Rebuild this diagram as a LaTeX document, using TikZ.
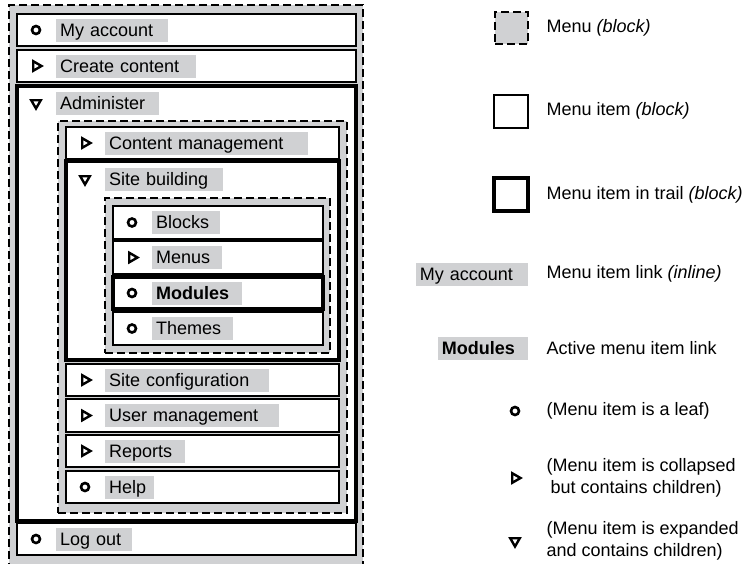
\documentclass[tikz,border=0pt]{standalone}
\usepackage{fontspec}
\setmainfont{Liberation Sans}
\usepackage{tikz}
\usetikzlibrary{shapes.geometric,positioning}
\definecolor{menugray}{RGB}{208,209,211}
\tikzstyle{menu}=[draw, fill=menugray, line width=1.2pt, dash pattern=on 8pt off 4pt,
  anchor=north west, inner sep=0pt, outer sep=0pt]
\tikzstyle{item}=[draw, fill=white, line width=2.4pt, anchor=north west,
  inner sep=0pt, outer sep=0pt]
\tikzstyle{trail}=[item, line width=4pt]
\tikzstyle{link}=[fill=menugray, anchor=west, inner xsep=4pt, inner ysep=0pt,
  text height=17.5pt, text depth=5.5pt, align=left]
\tikzstyle{leaf}=[circle, draw, line width=2.6pt, minimum size=8pt, inner sep=0pt]
\tikzstyle{collapsed}=[regular polygon, regular polygon sides=3, shape border rotate=-90,
  draw, line width=2.4pt, minimum size=11pt, inner sep=0pt]
\tikzstyle{expanded}=[collapsed, shape border rotate=180]
\tikzstyle{texto}=[anchor=west, align=left]
\newcommand{\blk}[4]{node (#1) [#2, minimum width=#3pt, minimum height=#4pt] {}}
\newcommand{\entry}[5]{%
  \path (#1.north west)+(19,#2) node (i#1) [#3] {};
  \path (#1.north west)+(39,#2) node (l#1) [link, text width=#5pt] {#4};}

\begin{document}
\begin{tikzpicture}[x=1pt,y=-1pt,font=\fontsize{18}{22}\selectfont]
\useasboundingbox (0,0) rectangle (746,563);

  % Draw the menu tree
\path (9,5) \blk{m1}{menu}{354}{570};
\path (17,14) \blk{b1}{item}{339}{32};
\path (17,50) \blk{b2}{item}{339}{32};
\path (17,86) \blk{b3}{trail}{339}{435};
\entry{b1}{16}{leaf}{My account}{104}
\entry{b2}{16}{collapsed}{Create content}{132}
\entry{b3}{17}{expanded}{Administer}{95}

\path (58,121) \blk{m2}{menu}{289}{392};
\path (66,127) \blk{b4}{item}{273}{32};
\path (66,161) \blk{b5}{trail}{273}{199};
\entry{b4}{16}{collapsed}{Content management}{195}
\entry{b5}{18}{expanded}{Site building}{110}

\path (105,198) \blk{m3}{menu}{225}{155};
\path (113,206) \blk{b6}{item}{210}{33};
\path (113,241) \blk{b7}{item}{210}{33};
\path (113,277) \blk{b8}{trail}{210}{32};
\path (113,312) \blk{b9}{item}{210}{33};
\entry{b6}{16.5}{leaf}{Blocks}{60}
\entry{b7}{16.5}{collapsed}{Menus}{62}
\entry{b8}{16}{leaf}{\textbf{Modules}}{82}
\entry{b9}{16.5}{leaf}{Themes}{73}

\path (66,364) \blk{b10}{item}{273}{32};
\path (66,399) \blk{b11}{item}{273}{33};
\path (66,435) \blk{b12}{item}{273}{32};
\path (66,471) \blk{b13}{item}{273}{32};
\entry{b10}{16}{collapsed}{Site configuration}{156}
\entry{b11}{16.5}{collapsed}{User management}{166}
\entry{b12}{16}{collapsed}{Reports}{72}
\entry{b13}{16}{leaf}{Help}{41}

\path (17,523) \blk{b14}{item}{339}{32};
\entry{b14}{16}{leaf}{Log out}{68}

  % Draw the legend
\path (495,12) \blk{k1}{menu}{33}{32};
\node (t1) [texto] at (543,28) {Menu \textit{(block)}};
\path (494,95) \blk{k2}{item}{34}{33};
\node (t2) [texto] at (543,111) {Menu item \textit{(block)}};
\path (494,178) \blk{k3}{trail}{34}{33};
\node (t3) [texto] at (543,195) {Menu item in trail \textit{(block)}};
\node (k4) [link, anchor=east, text width=104pt] at (528,274) {My account};
\node (t4) [texto] at (543,274) {Menu item link \textit{(inline)}};
\node (k5) [link, anchor=east, text width=82pt] at (528,348) {\textbf{Modules}};
\node (t5) [texto] at (543,348) {Active menu item link};
\node (k6) [leaf] at (515,411) {};
\node (t6) [texto] at (543,411) {(Menu item is a leaf)};
\node (k7) [collapsed] at (515,478) {};
\node (t7) [texto] at (543,478) {(Menu item is collapsed\\\hspace{4pt}but contains children)};
\node (k8) [expanded] at (515,541) {};
\node (t8) [texto] at (543,541) {(Menu item is expanded\\and contains children)};
\end{tikzpicture}
\end{document}
